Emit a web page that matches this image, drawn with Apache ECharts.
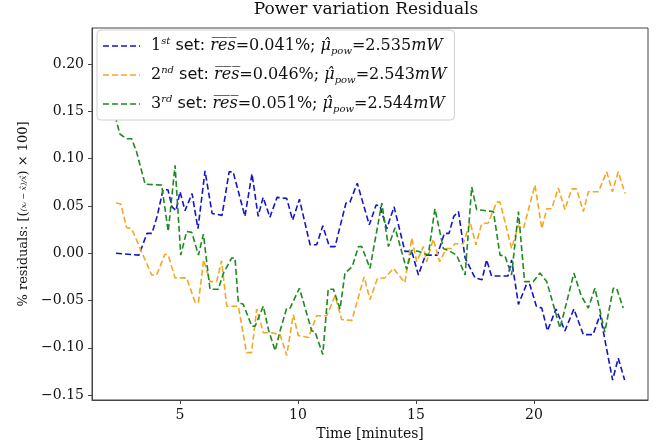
<!DOCTYPE html>
<html><head><meta charset="utf-8">
<script src="https://cdn.jsdelivr.net/npm/echarts@6/dist/echarts.min.js"></script>
<style>html,body{margin:0;padding:0;background:#fff}#c{width:666px;height:446px}</style>
</head><body><div id="c"></div>
<script>
// Time [minutes] and % residual values (vertices)
const t1 = [2.29,3.26,3.60,3.81,4.03,4.28,4.49,4.66,4.83,5.00,5.21,5.51,5.76,6.06,6.36,6.78,7.08,7.25,7.75,8.05,8.31,8.52,8.81,9.11,9.52,9.77,10.06,10.51,10.79,11.05,11.33,11.57,12.03,12.20,12.51,13.02,13.31,13.47,13.76,14.07,14.53,14.82,15.10,15.40,15.90,16.20,16.40,16.60,16.80,17.08,17.50,17.80,17.99,18.20,18.90,19.05,19.34,19.68,19.82,20.10,20.33,20.57,20.93,21.31,21.69,22.09,22.50,22.80,23.33,23.57,23.84];
const v1 = [0.000,-0.002,0.021,0.021,0.039,0.067,0.067,0.049,0.045,0.065,0.045,0.063,0.026,0.087,0.042,0.040,0.086,0.086,0.039,0.084,0.039,0.059,0.038,0.059,0.058,0.035,0.057,0.009,0.009,0.029,0.007,0.007,0.053,0.054,0.074,0.030,0.051,0.050,0.026,0.049,0.002,0.002,-0.023,-0.002,-0.002,0.021,0.021,0.039,0.044,-0.005,-0.026,-0.028,-0.007,-0.024,-0.024,-0.007,-0.054,-0.033,-0.033,-0.056,-0.058,-0.082,-0.059,-0.082,-0.059,-0.086,-0.086,-0.065,-0.134,-0.111,-0.134];

const t2 = [2.29,2.49,2.74,2.95,3.31,3.80,4.01,4.36,4.50,4.79,5.28,5.64,5.78,6.00,6.27,6.55,6.76,6.98,7.47,7.82,8.03,8.25,8.53,8.88,9.24,9.52,9.80,10.01,10.44,10.79,11.22,11.57,11.85,12.28,12.80,13.05,13.36,13.69,14.04,14.53,14.82,15.03,15.31,15.45,15.73,16.00,16.29,16.50,16.65,17.00,17.29,17.54,17.78,18.06,18.42,18.56,19.05,19.33,19.55,20.04,20.33,20.54,20.75,21.03,21.31,21.60,21.80,22.09,22.30,22.73,23.08,23.32,23.57,23.86];
const v2 = [0.053,0.052,0.027,0.026,0.005,-0.023,-0.023,-0.001,-0.002,-0.026,-0.026,-0.052,-0.052,-0.007,-0.030,-0.030,-0.008,-0.056,-0.056,-0.105,-0.105,-0.059,-0.084,-0.084,-0.086,-0.108,-0.065,-0.087,-0.089,-0.066,-0.066,-0.045,-0.070,-0.071,-0.025,-0.049,-0.027,-0.026,-0.016,-0.031,0.016,-0.009,0.007,-0.009,0.015,-0.009,0.005,0.005,0.010,0.010,0.033,0.009,0.031,0.032,0.054,0.054,0.005,0.029,0.026,0.072,0.026,0.047,0.047,0.069,0.046,0.068,0.068,0.044,0.065,0.065,0.086,0.065,0.086,0.063];

const t3 = [2.25,2.45,2.74,2.95,3.16,3.52,4.22,4.50,4.79,5.03,5.28,5.50,5.78,5.99,6.27,6.62,6.84,7.19,7.33,7.47,7.68,8.04,8.18,8.53,8.75,9.03,9.24,9.52,9.66,10.06,10.58,10.72,11.05,11.28,11.50,11.78,11.99,12.30,12.56,12.70,13.05,13.55,13.83,14.11,14.60,14.82,15.10,15.52,15.80,16.16,16.44,16.72,17.08,17.36,17.57,18.28,18.56,18.77,19.05,19.34,19.60,19.97,20.25,20.54,21.10,21.31,21.69,22.00,22.30,22.58,23.00,23.36,23.50,23.78];
const v3 = [0.145,0.126,0.121,0.121,0.107,0.073,0.072,0.023,0.093,-0.002,0.023,0.022,-0.002,0.020,-0.038,-0.038,-0.021,-0.005,-0.005,-0.052,-0.054,-0.077,-0.077,-0.056,-0.081,-0.103,-0.082,-0.058,-0.058,-0.037,-0.082,-0.083,-0.107,-0.038,-0.038,-0.059,-0.021,-0.014,0.007,0.007,-0.016,0.053,0.007,0.027,-0.017,0.003,0.002,-0.002,0.047,0.005,0.002,-0.002,-0.023,0.070,0.046,0.044,-0.002,-0.003,-0.023,0.044,-0.030,-0.030,-0.021,-0.030,-0.079,-0.059,-0.021,-0.045,-0.058,-0.037,-0.083,-0.037,-0.037,-0.058];

const seriesNames = ['1st set', '2nd set', '3rd set'];
const ordinalSup = ['st', 'nd', 'rd'];
const resMeans = ['0.041', '0.046', '0.051'];
const powMeans = ['2.535', '2.543', '2.544'];
const colors = ['#1515c8', '#f5a623', '#1e8a1e'];
const xTicks = [5, 10, 15, 20];
const yTicks = [-0.15, -0.10, -0.05, 0.00, 0.05, 0.10, 0.15, 0.20];

const zip = (t, v) => t.map((x, i) => [x, v[i]]);
const serif = 'DejaVu Serif';
const dashIcon = 'path://M0,0h6v1.6h-6z M9,0h6v1.6h-6z M18,0h6v1.6h-6z M27,0h6v1.6h-6z M36,0h1v1.6h-1z';

const chart = echarts.init(document.getElementById('c'), null, {renderer: 'canvas'});
const mkSeries = (name, t, v, color) => ({
  name, type: 'line', data: zip(t, v), symbol: 'none', showSymbol: false,
  lineStyle: {color, width: 1.6, type: [6, 3]}, itemStyle: {color}, z: 2
});

chart.setOption({
  animation: false,
  backgroundColor: '#fff',
  title: {text: 'Power variation Residuals', left: 366, textAlign: 'center', top: 1, padding: 0,
    textStyle: {fontFamily: serif, fontWeight: 'normal', fontSize: 17, color: '#111'}},
  grid: {left: 92, right: 18, top: 28, bottom: 43, show: true, borderColor: '#444', borderWidth: 1},
  legend: {
    orient: 'vertical', left: 97, top: 30, itemWidth: 37, itemHeight: 1.6, itemGap: 9,
    icon: dashIcon,
    padding: [6, 8, 6, 6], backgroundColor: '#fff', borderColor: '#d0d0d0', borderWidth: 1, borderRadius: 4,
    data: seriesNames,
    formatter: name => {
      const i = seriesNames.indexOf(name);
      return '{p|' + (i + 1) + '}{sup|' + ordinalSup[i] + '}{s| set: }{m|r̅e̅s̅}{n|=' + resMeans[i] + '%; }{m|μ̂}{sub|pow}{n|=' + powMeans[i] + '}{m|mW}';
    },
    textStyle: {
      color: '#111',
      rich: {
        p: {fontFamily: serif, fontSize: 16, lineHeight: 20, padding: [0, 0, 0, 6]},
        n: {fontFamily: serif, fontSize: 16, lineHeight: 20},
        m: {fontFamily: serif, fontStyle: 'italic', fontSize: 16, lineHeight: 20},
        s: {fontFamily: 'DejaVu Sans', fontSize: 16, lineHeight: 20},
        sup: {fontFamily: serif, fontStyle: 'italic', fontSize: 10, lineHeight: 10, verticalAlign: 'top'},
        sub: {fontFamily: serif, fontStyle: 'italic', fontSize: 10, lineHeight: 10, verticalAlign: 'bottom'}
      }
    }
  },
  xAxis: {
    type: 'value', min: 1.27, max: 24.83,
    name: 'Time [minutes]', nameLocation: 'middle', nameGap: 27,
    nameTextStyle: {fontFamily: serif, fontSize: 14, color: '#111'},
    axisLine: {show: true, onZero: false, lineStyle: {color: '#444'}},
    axisTick: {show: true, length: 4, customValues: xTicks, lineStyle: {color: '#444'}},
    axisLabel: {customValues: xTicks, fontFamily: serif, fontSize: 14, color: '#111', margin: 8},
    splitLine: {show: false}
  },
  yAxis: {
    type: 'value', min: -0.1551, max: 0.238,
    name: '{a|% residuals: [(}{f|(xᵢ − x̂)/x̂}{a|) × 100]}', nameLocation: 'middle', nameGap: 50, nameRotate: 90,
    nameTextStyle: {color: '#111', rich: {
      a: {fontFamily: serif, fontSize: 13}, f: {fontFamily: serif, fontStyle: 'italic', fontSize: 8}
    }},
    axisLine: {show: true, onZero: false, lineStyle: {color: '#444'}},
    axisTick: {show: true, length: 4, customValues: yTicks, lineStyle: {color: '#444'}},
    axisLabel: {customValues: yTicks, fontFamily: serif, fontSize: 14, color: '#111', margin: 8,
      formatter: v => v.toFixed(2).replace('-', '−')},
    splitLine: {show: false}
  },
  series: [
    mkSeries(seriesNames[0], t1, v1, colors[0]),
    mkSeries(seriesNames[1], t2, v2, colors[1]),
    mkSeries(seriesNames[2], t3, v3, colors[2])
  ]
});
</script></body></html>
